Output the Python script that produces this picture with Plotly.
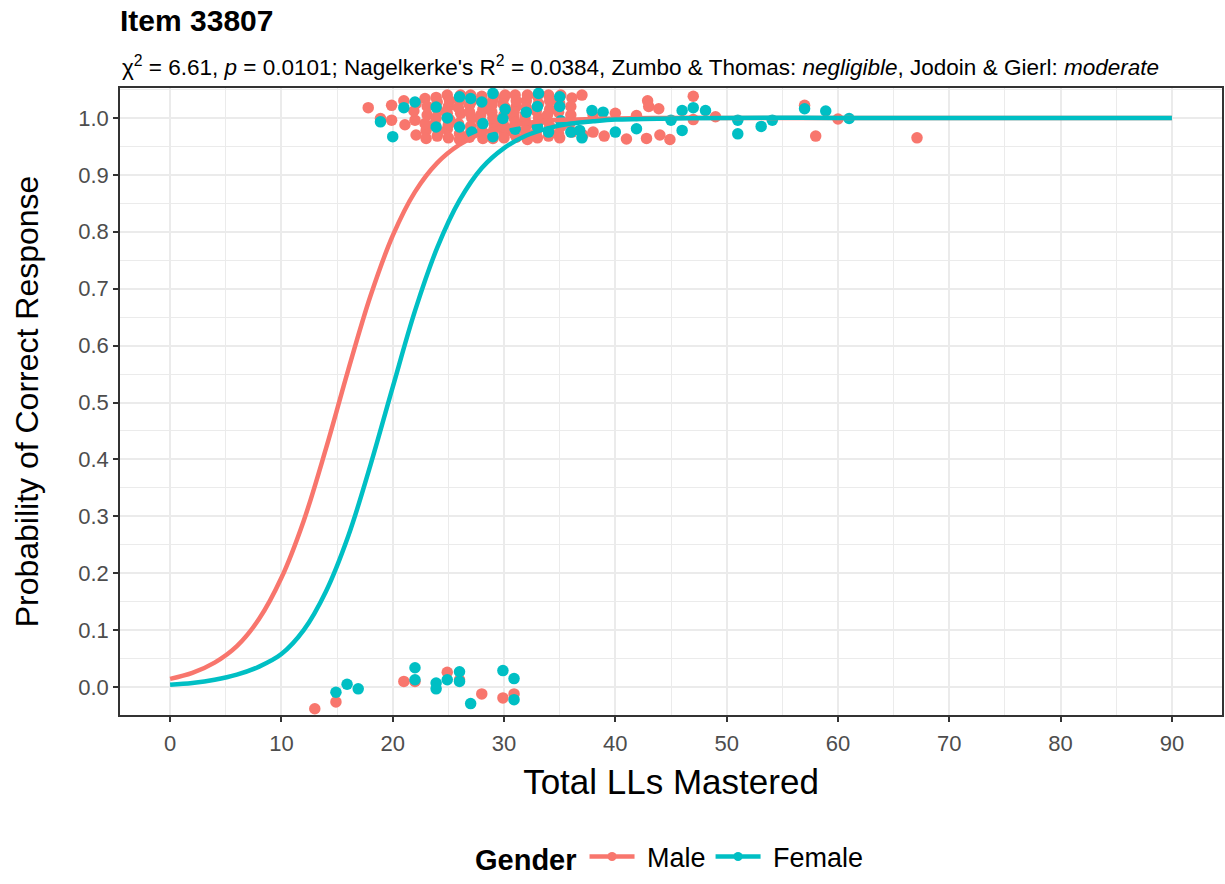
import plotly.graph_objects as go

# fitted curves
curve_x = [0, 2, 4, 6, 8, 10, 12, 14, 16, 18, 20, 22, 24, 26, 28, 30, 32, 34, 36, 38, 40, 45, 50, 60, 70, 80, 90]
male_curve = [0.0145, 0.025, 0.043, 0.072, 0.120, 0.192, 0.292, 0.419, 0.557, 0.687, 0.793, 0.870, 0.921,
              0.953, 0.973, 0.984, 0.991, 0.995, 0.997, 0.998, 0.999, 1.0, 1.0, 1.0, 1.0, 1.0, 1.0]
female_curve = [0.0043, 0.0074, 0.013, 0.022, 0.036, 0.058, 0.100, 0.168, 0.265, 0.390, 0.527, 0.661, 0.772,
                0.855, 0.912, 0.947, 0.969, 0.982, 0.990, 0.994, 0.997, 0.999, 1.0, 1.0, 1.0, 1.0, 1.0]

# jittered responses (Male)
male_x = [13.0, 14.9, 21.0, 22.0, 24.9, 26.0, 28.0, 29.9, 30.9,
          17.8, 18.9, 19.9, 19.9, 21.0, 21.1, 22.0, 22.1, 22.9, 23.0, 23.0, 23.1, 23.9, 24.0, 24.1, 23.8,
          24.9, 25.0, 25.1, 24.9, 25.0, 26.0, 26.1, 25.9, 26.0, 27.0, 26.9, 27.1, 27.0, 26.9,
          28.0, 28.1, 27.9, 28.0, 28.1, 29.0, 28.9, 29.1, 29.0, 30.0, 30.1, 29.9, 30.0,
          31.0, 31.1, 30.9, 31.0, 31.1, 32.0, 31.9, 32.1, 32.0, 33.0, 33.1, 32.9,
          34.0, 34.1, 33.9, 34.0, 35.0, 35.1, 34.9, 36.1, 36.0, 35.9, 37.0, 37.1, 38.0, 38.0, 39.0,
          40.0, 41.0, 41.9, 42.9, 43.0, 42.8, 43.9, 44.0, 44.9, 47.0, 47.0, 49.0, 57.0, 58.0, 60.0, 67.1,
          22.9, 23.1, 24.1, 23.9, 25.1, 24.9, 25.0, 26.1, 25.9, 26.0, 27.1, 26.9, 27.0, 28.1, 27.9, 28.0,
          29.1, 28.9, 29.0, 29.1, 29.0, 30.1, 29.9, 30.0, 30.1, 30.0, 31.1, 30.9, 31.0, 30.9,
          32.1, 32.0, 31.9, 31.9, 32.1, 33.1, 32.9, 33.0, 33.0, 34.1, 33.9, 34.1, 35.1, 34.9, 35.0,
          36.0, 36.1, 24.0, 22.1, 21.9]
male_y = [-0.038, -0.026, 0.010, 0.010, 0.026, 0.013, -0.012, -0.019, -0.012,
          1.018, 0.999, 1.022, 0.996, 1.030, 0.988, 0.996, 1.025, 1.034, 0.978, 0.964, 1.005, 1.036, 0.968, 1.012, 0.990,
          1.040, 1.020, 0.997, 0.980, 0.965, 1.030, 1.008, 0.990, 0.972, 1.040, 1.022, 1.000, 0.985, 0.966,
          1.038, 1.015, 0.995, 0.978, 0.964, 1.032, 1.010, 0.990, 0.972, 1.035, 1.018, 0.992, 0.975,
          1.040, 1.020, 1.000, 0.983, 0.966, 1.030, 1.005, 0.988, 0.970, 1.038, 1.000, 0.975,
          1.040, 1.015, 0.995, 0.968, 1.025, 0.985, 0.972, 1.035, 1.020, 0.990, 1.040, 0.970, 0.975, 1.005, 0.968,
          1.008, 0.963, 1.004, 1.030, 1.020, 0.964, 1.016, 0.970, 0.962, 1.038, 0.997, 1.002, 1.022, 0.968, 0.998, 0.965,
          0.990, 1.020, 0.975, 1.000, 1.030, 1.008, 0.988, 1.040, 1.018, 0.962, 1.030, 1.010, 0.975, 1.028, 1.005, 0.986,
          1.040, 1.022, 1.000, 0.980, 0.964, 1.040, 1.025, 1.005, 0.983, 0.965, 1.030, 1.010, 0.992, 0.973,
          1.040, 1.018, 0.996, 0.978, 0.962, 1.025, 1.012, 0.988, 0.965, 1.030, 1.005, 0.985, 1.040, 1.010, 0.965,
          1.005, 0.975, 1.028, 0.970, 1.012]

# jittered responses (Female)
female_x = [14.9, 15.9, 16.9, 22.0, 22.0, 23.9, 23.9, 24.9, 26.0, 26.0, 27.0, 29.9, 30.9, 30.9,
            18.9, 20.0, 21.0, 22.0, 23.9, 23.9, 24.9, 26.0, 26.0, 27.0, 27.1, 28.0, 28.1, 29.0, 29.0,
            29.9, 30.1, 31.0, 32.0, 33.1, 33.0, 33.0, 34.0, 35.0, 35.0, 35.1, 36.0, 36.8, 37.0,
            37.9, 38.9, 40.0, 41.9, 45.0, 46.0, 46.0, 47.0, 48.1, 51.0, 51.0, 53.1, 54.1, 57.0, 58.9, 61.0]
female_y = [-0.009, 0.005, -0.003, 0.013, 0.034, 0.007, -0.003, 0.013, 0.027, 0.010, -0.029, 0.029, 0.015, -0.022,
            0.993, 0.967, 1.018, 1.028, 1.019, 0.984, 1.000, 1.037, 0.984, 1.034, 0.975, 1.028, 0.990, 1.043, 0.967,
            0.999, 1.015, 0.980, 1.010, 1.043, 1.020, 0.985, 0.975, 1.037, 1.020, 0.995, 0.975, 0.978, 0.965,
            1.013, 1.010, 0.975, 0.981, 0.996, 1.013, 0.978, 1.018, 1.013, 0.996, 0.972, 0.985, 0.996, 1.016, 1.012, 0.999]

male_color = '#F8766D'
female_color = '#00BFC4'
font = 'Liberation Sans, Arial, sans-serif'

W, H = 1225, 884
top, bottom = 88, 717
plot_h = bottom - top

fig = go.Figure()

fig.add_trace(go.Scatter(x=male_x, y=male_y, mode='markers', showlegend=False,
                         marker=dict(color=male_color, size=11.5)))
fig.add_trace(go.Scatter(x=female_x, y=female_y, mode='markers', showlegend=False,
                         marker=dict(color=female_color, size=11.5)))
fig.add_trace(go.Scatter(x=curve_x, y=male_curve, mode='lines', line_shape='spline', showlegend=False,
                         line=dict(color=male_color, width=4.5)))
fig.add_trace(go.Scatter(x=curve_x, y=female_curve, mode='lines', line_shape='spline', showlegend=False,
                         line=dict(color=female_color, width=4.5)))

# legend entries
fig.add_trace(go.Scatter(x=[None], y=[None], mode='lines+markers', name='\u00a0Male',
                         line=dict(color=male_color, width=4.5), marker=dict(color=male_color, size=9)))
fig.add_trace(go.Scatter(x=[None], y=[None], mode='lines+markers', name='\u00a0Female',
                         line=dict(color=female_color, width=4.5), marker=dict(color=female_color, size=9)))

fig.update_layout(
    width=W, height=H,
    paper_bgcolor='white', plot_bgcolor='white',
    margin=dict(l=120, r=3, t=top, b=H - bottom),
    font=dict(family=font, color='black'),
    title=dict(text='<b>Item 33807</b>', x=120/W, xref='container', xanchor='left',
               y=1 - 20 / H, yanchor='middle', font=dict(size=30, color='black')),
    # legend box kept inside the page so it does not grow the page
    legend=dict(orientation='h', x=0.5, xanchor='center', y=(bottom - H) / plot_h, yanchor='bottom',
                title=dict(text='<b>Gender</b>', font=dict(size=29)),
                font=dict(size=27), itemwidth=45),
)

fig.add_annotation(
    text="χ<sup>2</sup> = 6.61, <i>p</i> = 0.0101; Nagelkerke's R<sup>2</sup> = 0.0384, "
         "Zumbo & Thomas: <i>negligible</i>, Jodoin & Gierl: <i>moderate</i>",
    xref='paper', yref='paper', x=0, y=(bottom - 66) / plot_h, xanchor='left', yanchor='middle',
    showarrow=False, font=dict(size=22.5, color='black'))

fig.update_xaxes(
    range=[-4.5, 94.5], tickvals=[0, 10, 20, 30, 40, 50, 60, 70, 80, 90],
    title=dict(text='Total LLs Mastered', font=dict(size=35), standoff=14),
    tickfont=dict(size=22, color='#4D4D4D'), automargin=False, ticklabelstandoff=3,
    showgrid=True, gridcolor='#EBEBEB', gridwidth=1.6,
    minor=dict(dtick=5, tick0=0, showgrid=True, gridcolor='#EBEBEB', gridwidth=0.9, ticks=''),
    zeroline=False, showline=True, mirror=True, linecolor='#333333', linewidth=1.5,
    ticks='outside', ticklen=5, tickcolor='#333333', tickwidth=1.5,
)
fig.update_yaxes(
    range=[-0.049, 1.0525], tickvals=[i / 10 for i in range(11)], tickformat='.1f',
    title=dict(text='Probability of Correct Response', font=dict(size=32), standoff=30),
    tickfont=dict(size=22, color='#4D4D4D'), automargin=False,
    showgrid=True, gridcolor='#EBEBEB', gridwidth=1.6,
    minor=dict(dtick=0.05, tick0=0, showgrid=True, gridcolor='#EBEBEB', gridwidth=0.9, ticks=''),
    zeroline=False, showline=True, mirror=True, linecolor='#333333', linewidth=1.5,
    ticks='outside', ticklen=5, tickcolor='#333333', tickwidth=1.5,
)

# drop the default page margin so the figure fills the window exactly
fig.write_html("out.html", config={'displayModeBar': False},
               post_script="document.body.style.margin='0';"
                           "document.documentElement.style.overflow='hidden';")
